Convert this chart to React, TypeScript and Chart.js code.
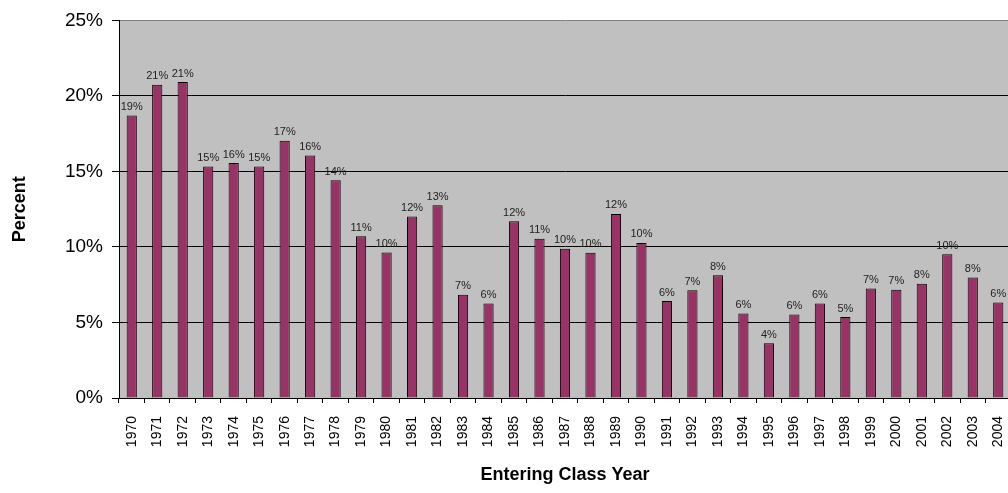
import React, { useEffect, useRef } from "react";
import { Chart, registerables } from "chart.js";

Chart.register(...registerables);

const years: string[] = [
  "1970", "1971", "1972", "1973", "1974", "1975", "1976", "1977", "1978", "1979",
  "1980", "1981", "1982", "1983", "1984", "1985", "1986", "1987", "1988", "1989",
  "1990", "1991", "1992", "1993", "1994", "1995", "1996", "1997", "1998", "1999",
  "2000", "2001", "2002", "2003", "2004",
];

const percentValues: number[] = [
  18.7, 20.74, 20.92, 15.32, 15.56, 15.32, 17.04, 16.05, 14.42, 10.71,
  9.63, 12.02, 12.76, 6.83, 6.26, 11.71, 10.54, 9.88, 9.61, 12.19,
  10.27, 6.42, 7.14, 8.13, 5.6, 3.62, 5.53, 6.26, 5.36, 7.25,
  7.16, 7.56, 9.52, 7.98, 6.33,
];

const yTickValues: number[] = [0, 5, 10, 15, 20, 25];

const FONT = "'Liberation Sans', Arial, sans-serif";

const plotBackground = {
  id: "plotBackground",
  beforeDraw(chart: any) {
    const { ctx, chartArea } = chart;
    ctx.save();
    ctx.fillStyle = "#C0C0C0";
    ctx.fillRect(chartArea.left, chartArea.top, chartArea.right - chartArea.left, chartArea.bottom - chartArea.top);
    ctx.restore();
  },
};

const dataLabels = {
  id: "dataLabels",
  afterDatasetsDraw(chart: any) {
    const { ctx } = chart;
    const meta = chart.getDatasetMeta(0);
    const data = chart.data.datasets[0].data as number[];
    ctx.save();
    ctx.font = `11px ${FONT}`;
    ctx.fillStyle = "#222";
    ctx.textAlign = "center";
    ctx.textBaseline = "bottom";
    meta.data.forEach((el: any, i: number) => {
      ctx.fillText(`${Math.round(data[i])}%`, el.x, el.y - 3);
    });
    ctx.restore();
  },
};

export default function App() {
  const canvasRef = useRef<HTMLCanvasElement | null>(null);

  useEffect(() => {
    if (!canvasRef.current) return;
    const chart = new Chart(canvasRef.current, {
      type: "bar",
      data: {
        labels: years,
        datasets: [
          {
            data: percentValues,
            backgroundColor: "#993366",
            borderColor: "#000000",
            borderWidth: 1,
            barPercentage: 1,
            categoryPercentage: 0.4,
          },
        ],
      },
      options: {
        animation: false,
        responsive: true,
        maintainAspectRatio: false,
        layout: { padding: { top: 20, right: 0, left: 0, bottom: 0 } },
        plugins: {
          legend: { display: false },
          tooltip: { enabled: false },
        },
        scales: {
          x: {
            afterFit(scale: any) {
              scale.height = 95;
              scale.paddingLeft = 0;
              scale.paddingRight = 0;
            },
            grid: {
              offset: true,
              drawOnChartArea: false,
              drawTicks: true,
              tickLength: 5,
              color: "#000000",
            },
            border: { color: "#000000", width: 1 },
            ticks: {
              autoSkip: false,
              maxRotation: 90,
              minRotation: 90,
              padding: 13,
              color: "#000000",
              font: { family: FONT, size: 14 },
            },
            title: {
              display: true,
              text: "Entering Class Year",
              color: "#000000",
              font: { family: FONT, size: 18, weight: "bold" },
              padding: { top: 0, bottom: 7 },
            },
          },
          y: {
            min: 0,
            max: 25,
            afterFit(scale: any) {
              scale.width = 119;
            },
            afterBuildTicks(scale: any) {
              scale.ticks = yTickValues.map((v) => ({ value: v }));
            },
            grid: {
              color: (ctx: any) => (ctx.tick && ctx.tick.value === 25 ? "#808080" : "#000000"),
              tickColor: "#000000",
              tickLength: 7,
              lineWidth: 1,
            },
            border: { color: "#000000", width: 1 },
            ticks: {
              padding: 9,
              color: "#000000",
              font: { family: FONT, size: 19 },
              callback: (v: any) => `${v}%`,
            },
            title: {
              display: true,
              text: "Percent",
              color: "#000000",
              font: { family: FONT, size: 18, weight: "bold" },
              padding: { top: 9, bottom: 0 },
            },
          },
        },
      },
      plugins: [plotBackground, dataLabels],
    });
    return () => chart.destroy();
  }, []);

  return (
    <div style={{ position: "fixed", left: 0, top: 0, width: 1011, height: 493, background: "#ffffff" }}>
      <canvas ref={canvasRef} />
    </div>
  );
}
